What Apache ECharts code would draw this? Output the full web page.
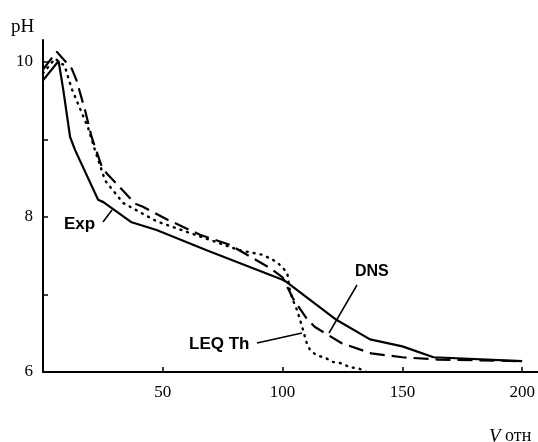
<!DOCTYPE html>
<html>
<head>
<meta charset="utf-8">
<script src="https://cdn.jsdelivr.net/npm/echarts@6/dist/echarts.min.js"></script>
<style>
html,body{margin:0;padding:0;background:#fff;}
#c{width:538px;height:442px;}
</style>
</head>
<body>
<div id="c"></div>
<script>
// Data (V отн, pH)
const expData = [[0,9.76],[6.5,10.01],[8.5,9.63],[11.3,9.03],[13.4,8.86],[23,8.22],[25.2,8.19],[37,7.93],[47.4,7.83],[68.3,7.57],[100,7.19],[101.7,7.16],[122.6,6.67],[136.5,6.42],[150,6.33],[163,6.19],[200,6.14]];
const dnsData = [[0,9.9],[5.7,10.13],[12,9.91],[14,9.76],[17.5,9.38],[20.3,9.03],[24.5,8.65],[26.6,8.56],[30,8.45],[38.4,8.17],[41.7,8.13],[52.2,7.96],[65.5,7.77],[78,7.64],[94.7,7.34],[100,7.22],[104.3,6.95],[110,6.69],[113.5,6.58],[124.7,6.37],[137,6.24],[150,6.19],[165,6.16],[200,6.14]];
const leqData = [[0,9.85],[5,10.04],[9,9.95],[12,9.65],[18.8,9.15],[21.7,8.86],[25.9,8.47],[33.4,8.18],[47.6,7.94],[82,7.57],[91.8,7.51],[97.5,7.42],[100.2,7.34],[102,7.27],[103,7.05],[104.4,6.92],[106,6.8],[108,6.6],[110,6.38],[111.5,6.28],[114,6.22],[118,6.18],[121,6.13],[125,6.11],[128,6.06],[131.5,6.05],[135,6.0]];
const xTickLabels = [50,100,150,200];
const yTickLabels = [6,8,10];
const yTicks = [7,8,9,10];

const serif = '"Liberation Serif", "DejaVu Serif", serif';
const sans = '"Liberation Sans", Arial, sans-serif';

const chart = echarts.init(document.getElementById('c'));
chart.setOption({
  animation:false,
  backgroundColor:'#fff',
  grid:{left:43, top:40, right:0, bottom:70},
  xAxis:{
    type:'value', min:0, max:206.6, interval:50,
    axisLine:{lineStyle:{color:'#000', width:2}},
    axisTick:{inside:true, length:5, lineStyle:{color:'#000', width:1.5}, customValues:xTickLabels},
    axisLabel:{color:'#000', fontFamily:serif, fontSize:17, margin:12, customValues:xTickLabels},
    splitLine:{show:false}
  },
  yAxis:{
    type:'value', min:6, max:10.28, interval:1,
    axisLine:{lineStyle:{color:'#000', width:2}},
    axisTick:{inside:true, length:5, lineStyle:{color:'#000', width:1.5}, customValues:yTicks},
    axisLabel:{color:'#000', fontFamily:serif, fontSize:17, margin:10, customValues:yTickLabels},
    splitLine:{show:false}
  },
  series:[
    {name:'Exp', type:'line', data:expData, symbol:'none', lineStyle:{color:'#000', width:2.2}},
    {name:'DNS', type:'line', data:dnsData, symbol:'none', lineStyle:{color:'#000', width:2.2, type:[15,7]}},
    {name:'LEQ Th', type:'line', data:leqData, symbol:'none', lineStyle:{color:'#000', width:2.4, type:[1,6], cap:'round'}}
  ],
  graphic:[
    {type:'text', left:11, top:18, style:{text:'pH', font:'19px '+serif, fill:'#000'}},
    {type:'text', left:489, top:427, style:{text:'{i|V} {n|отн}', fill:'#000', rich:{i:{font:'italic 19px '+serif}, n:{font:'18px '+serif}}, font:'18px '+serif}},
    {type:'text', left:64, top:216, style:{text:'Exp', font:'bold 17px '+sans, fill:'#000'}},
    {type:'line', shape:{x1:103, y1:222, x2:112, y2:210}, style:{stroke:'#000', lineWidth:1.5}},
    {type:'text', left:355, top:264, style:{text:'DNS', font:'bold 16px '+sans, fill:'#000'}},
    {type:'line', shape:{x1:357, y1:285, x2:329, y2:333}, style:{stroke:'#000', lineWidth:1.5}},
    {type:'text', left:189, top:336, style:{text:'LEQ Th', font:'bold 17px '+sans, fill:'#000'}},
    {type:'line', shape:{x1:257, y1:343, x2:302, y2:333}, style:{stroke:'#000', lineWidth:1.5}}
  ]
});
</script>
</body>
</html>
